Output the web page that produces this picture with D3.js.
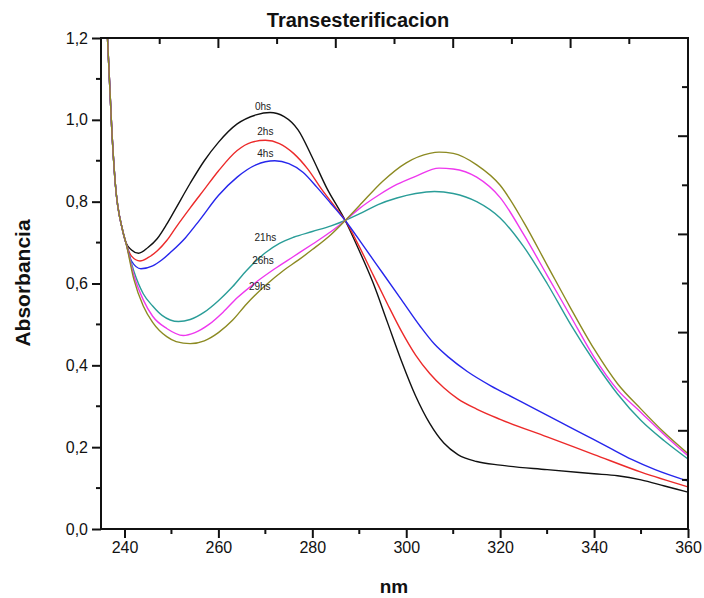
<!DOCTYPE html>
<html>
<head>
<meta charset="utf-8">
<script src="https://cdn.jsdelivr.net/npm/d3@7"></script>
<style>
  body { margin: 0; background: #fff; }
  svg { display: block; }
  text { font-family: "Liberation Sans", Arial, sans-serif; }
</style>
</head>
<body>
<svg id="chart" width="704" height="598"></svg>
<script>
// spectra: [nm, absorbance]
const steep = [[235.8, 1.36], [236.3, 1.22], [237.3, 0.975], [238, 0.85], [239.6, 0.73], [240.3, 0.70]];

const s0 = steep.concat([[241.5, 0.682], [243, 0.674], [245, 0.688], [247, 0.71], [249, 0.745], [251, 0.785],
  [254, 0.845], [257, 0.9], [260, 0.945], [264, 0.99], [268, 1.012], [271, 1.018], [274, 1.008],
  [277, 0.975], [280, 0.908], [283, 0.835], [287, 0.754], [290, 0.68], [293, 0.6], [296, 0.505],
  [299, 0.41], [302, 0.325], [305, 0.258], [308, 0.21], [311, 0.182], [315, 0.165], [320, 0.156],
  [330, 0.145], [340, 0.135], [345, 0.13], [350, 0.12], [355, 0.105], [360, 0.09]]);

const s2 = steep.concat([[241.5, 0.667], [243.3, 0.655], [245, 0.663], [247, 0.68], [249, 0.705], [251, 0.738],
  [254, 0.785], [257, 0.83], [260, 0.875], [264, 0.925], [267, 0.945], [270, 0.95], [273, 0.942],
  [276, 0.918], [279, 0.88], [282, 0.83], [285, 0.785], [287, 0.754], [290, 0.69], [293, 0.62],
  [296, 0.55], [299, 0.483], [302, 0.425], [305, 0.38], [308, 0.345], [311, 0.318], [315, 0.293],
  [320, 0.268], [330, 0.225], [340, 0.182], [350, 0.139], [360, 0.103]]);

const s4 = steep.concat([[241.5, 0.655], [243.5, 0.636], [246, 0.643], [248, 0.658], [250, 0.678], [253, 0.712],
  [256, 0.755], [260, 0.815], [264, 0.86], [268, 0.89], [272, 0.90], [275, 0.893], [278, 0.872],
  [281, 0.835], [284, 0.795], [287, 0.754], [291, 0.69], [295, 0.625], [299, 0.56], [303, 0.495],
  [306, 0.452], [309, 0.42], [313, 0.385], [318, 0.35], [323, 0.32], [328, 0.29], [333, 0.26],
  [338, 0.23], [343, 0.2], [348, 0.17], [353, 0.145], [360, 0.117]]);

const s21 = steep.concat([[242, 0.63], [244, 0.575], [246, 0.545], [248, 0.522], [251.5, 0.507], [254, 0.512],
  [257, 0.53], [260, 0.558], [263, 0.592], [266, 0.632], [270, 0.675], [273, 0.698], [276, 0.713],
  [280, 0.727], [284, 0.741], [287, 0.754], [290, 0.77], [294, 0.793], [298, 0.809], [302, 0.82],
  [306, 0.825], [310, 0.82], [315, 0.80], [320, 0.76], [325, 0.69], [330, 0.60], [335, 0.50],
  [340, 0.41], [345, 0.33], [350, 0.265], [355, 0.215], [360, 0.171]]);

const s26 = steep.concat([[242, 0.62], [244, 0.56], [246, 0.52], [249, 0.49], [252.5, 0.473], [255, 0.48],
  [258, 0.50], [261, 0.53], [264, 0.565], [268, 0.603], [272, 0.636], [276, 0.666], [280, 0.696],
  [284, 0.727], [287, 0.754], [290, 0.783], [294, 0.815], [298, 0.842], [302, 0.862], [307, 0.882],
  [310, 0.88], [315, 0.86], [320, 0.81], [325, 0.72], [330, 0.62], [335, 0.52], [340, 0.42],
  [345, 0.34], [350, 0.285], [355, 0.23], [360, 0.179]]);

const s29 = steep.concat([[242, 0.61], [244, 0.545], [246, 0.505], [249, 0.47], [251, 0.458], [254, 0.453],
  [257, 0.46], [260, 0.48], [263, 0.51], [266, 0.55], [270, 0.595], [274, 0.633], [277, 0.657],
  [280, 0.683], [284, 0.72], [287, 0.754], [290, 0.79], [295, 0.85], [300, 0.895], [305, 0.918],
  [307, 0.921], [310, 0.918], [315, 0.89], [320, 0.84], [325, 0.75], [330, 0.645], [335, 0.54],
  [340, 0.44], [345, 0.355], [350, 0.293], [355, 0.235], [360, 0.184]]);

const series = [
  { name: "0hs", data: s0, color: "#111111" },
  { name: "2hs", data: s2, color: "#ec2a2a" },
  { name: "4hs", data: s4, color: "#2626ec" },
  { name: "21hs", data: s21, color: "#2a9d98" },
  { name: "26hs", data: s26, color: "#ee38ee" },
  { name: "29hs", data: s29, color: "#8c8a22" }
];

// where the time labels sit, in data units
const labels = [
  { text: "0hs", x: 269.5, y: 1.025 },
  { text: "2hs", x: 270, y: 0.962 },
  { text: "4hs", x: 270, y: 0.91 },
  { text: "21hs", x: 270, y: 0.705 },
  { text: "26hs", x: 269.5, y: 0.647 },
  { text: "29hs", x: 268.8, y: 0.585 }
];

const xMajor = [240, 260, 280, 300, 320, 340, 360];
const yMajor = [0, 0.2, 0.4, 0.6, 0.8, 1.0, 1.2];

const svg = d3.select("#chart");
const pL = 101, pR = 688, pT = 38, pB = 529;

const x = d3.scaleLinear().domain([235, 360]).range([pL, pR]);
const y = d3.scaleLinear().domain([0, 1.2]).range([pB, pT]);
const fmt = v => d3.format(".1f")(v).replace(".", ",");

svg.append("clipPath").attr("id", "plot")
  .append("rect").attr("x", pL).attr("y", pT).attr("width", pR - pL).attr("height", pB - pT);

const line = d3.line().x(d => x(d[0])).y(d => y(d[1])).curve(d3.curveMonotoneX);

svg.append("g").attr("clip-path", "url(#plot)")
  .selectAll("path").data(series).join("path")
  .attr("d", d => line(d.data))
  .attr("fill", "none")
  .attr("stroke", d => d.color)
  .attr("stroke-width", 1.4);

svg.selectAll(".lab").data(labels).join("text")
  .attr("x", d => x(d.x)).attr("y", d => y(d.y))
  .attr("text-anchor", "middle")
  .style("font-size", "10px")
  .attr("fill", "#222")
  .text(d => d.text);

// bottom axis, outward ticks
const xAxis = d3.axisBottom(x).tickValues(xMajor).tickSize(9).tickPadding(4).tickFormat(d3.format("d"));
const gx = svg.append("g").attr("transform", `translate(0,${pB})`).call(xAxis);
gx.selectAll("text").style("font-size", "16px").attr("fill", "#111");
gx.append("g").selectAll("line").data(d3.range(250, 360, 20)).join("line")
  .attr("x1", d => x(d)).attr("x2", d => x(d)).attr("y1", 0).attr("y2", 5);

// left axis
const yAxis = d3.axisLeft(y).tickValues(yMajor).tickSize(9).tickPadding(4).tickFormat(fmt);
const gy = svg.append("g").attr("transform", `translate(${pL},0)`).call(yAxis);
gy.selectAll("text").style("font-size", "16px").attr("fill", "#111");
gy.append("g").selectAll("line").data(d3.range(0.1, 1.2, 0.2)).join("line")
  .attr("y1", d => y(d)).attr("y2", d => y(d)).attr("x1", 0).attr("x2", -5);

[gx, gy].forEach(g => {
  g.selectAll("line").attr("stroke-width", 2).attr("stroke", "#111");
  g.select(".domain").remove();
});

// top and right axes: 10 divisions, inward ticks
const topTicks = d3.range(1, 10).map(i => ({ v: 235 + i * 12.5, major: i % 2 === 0 }));
svg.append("g").selectAll("line").data(topTicks).join("line")
  .attr("x1", d => x(d.v)).attr("x2", d => x(d.v))
  .attr("y1", pT).attr("y2", d => pT + (d.major ? 10 : 6))
  .attr("stroke", "#111").attr("stroke-width", 2);

const rightTicks = d3.range(1, 10).map(i => ({ v: i * 0.12, major: i % 2 === 0 }));
svg.append("g").selectAll("line").data(rightTicks).join("line")
  .attr("y1", d => y(d.v)).attr("y2", d => y(d.v))
  .attr("x1", pR).attr("x2", d => pR - (d.major ? 10 : 6))
  .attr("stroke", "#111").attr("stroke-width", 2);

// frame
svg.append("rect")
  .attr("x", pL).attr("y", pT).attr("width", pR - pL).attr("height", pB - pT)
  .attr("fill", "none").attr("stroke", "#111").attr("stroke-width", 2);

svg.append("text").attr("x", 358).attr("y", 27).attr("text-anchor", "middle")
  .style("font-size", "20px").style("font-weight", "bold").attr("fill", "#111")
  .text("Transesterificacion");

svg.append("text").attr("x", 394).attr("y", 593).attr("text-anchor", "middle")
  .style("font-size", "19px").style("font-weight", "bold").attr("fill", "#111")
  .text("nm");

svg.append("text").attr("transform", "translate(30,283) rotate(-90)").attr("text-anchor", "middle")
  .style("font-size", "21px").style("font-weight", "bold").attr("fill", "#111")
  .text("Absorbancia");
</script>
</body>
</html>
